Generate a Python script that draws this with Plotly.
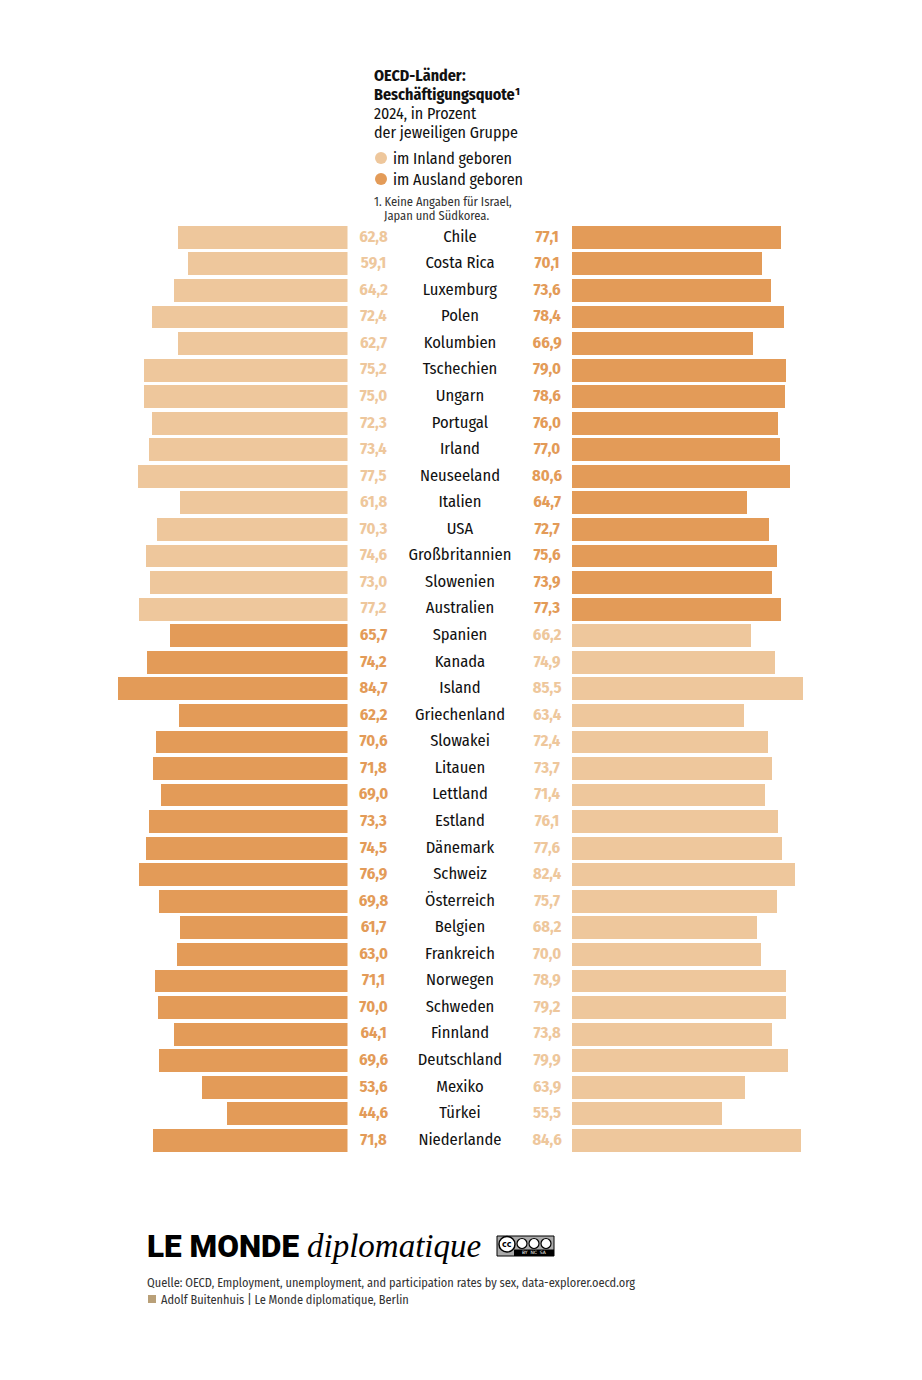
import plotly.graph_objects as go

# ---------------- data ----------------
countries = ["Chile", "Costa Rica", "Luxemburg", "Polen", "Kolumbien", "Tschechien", "Ungarn",
             "Portugal", "Irland", "Neuseeland", "Italien", "USA", "Großbritannien", "Slowenien",
             "Australien", "Spanien", "Kanada", "Island", "Griechenland", "Slowakei", "Litauen",
             "Lettland", "Estland", "Dänemark", "Schweiz", "Österreich", "Belgien", "Frankreich",
             "Norwegen", "Schweden", "Finnland", "Deutschland", "Mexiko", "Türkei", "Niederlande"]
inland = [62.8, 59.1, 64.2, 72.4, 62.7, 75.2, 75.0, 72.3, 73.4, 77.5, 61.8, 70.3, 74.6, 73.0,
          77.2, 66.2, 74.9, 85.5, 63.4, 72.4, 73.7, 71.4, 76.1, 77.6, 82.4, 75.7, 68.2, 70.0,
          78.9, 79.2, 73.8, 79.9, 63.9, 55.5, 84.6]
ausland = [77.1, 70.1, 73.6, 78.4, 66.9, 79.0, 78.6, 76.0, 77.0, 80.6, 64.7, 72.7, 75.6, 73.9,
           77.3, 65.7, 74.2, 84.7, 62.2, 70.6, 71.8, 69.0, 73.3, 74.5, 76.9, 69.8, 61.7, 63.0,
           71.1, 70.0, 64.1, 69.6, 53.6, 44.6, 71.8]

LIGHT = "#EEC79C"
DARK = "#E39B58"
FONT = "Fira Sans Condensed, Roboto Condensed, Liberation Sans Narrow, DejaVu Sans Condensed, sans-serif"

W, H = 922, 1380
OX, OY = 8, 8  # page body margin compensation
def px(x): return (x - OX) / W
def py(y): return 1 - (y - OY) / H

# left = lower value, right = higher value
left_v, right_v, left_c, right_c = [], [], [], []
for a, b in zip(inland, ausland):
    if b >= a:
        left_v.append(a); left_c.append(LIGHT); right_v.append(b); right_c.append(DARK)
    else:
        left_v.append(b); left_c.append(DARK); right_v.append(a); right_c.append(LIGHT)

fmt = lambda v: f"{v:.1f}".replace(".", ",")
ys = list(range(len(countries)))

fig = go.Figure()
fig.add_trace(go.Bar(x=left_v, y=ys, orientation="h", marker=dict(color=left_c, line_width=0),
                     width=0.86, xaxis="x", yaxis="y", hoverinfo="skip", showlegend=False))
fig.add_trace(go.Bar(x=right_v, y=ys, orientation="h", marker=dict(color=right_c, line_width=0),
                     width=0.86, xaxis="x2", yaxis="y", hoverinfo="skip", showlegend=False))
# middle text columns
fig.add_trace(go.Scatter(x=[0.116] * len(ys), y=ys, mode="text", text=[fmt(v) for v in left_v],
                         textfont=dict(family=FONT, size=16.5, color=left_c, weight="bold"),
                         xaxis="x3", yaxis="y", hoverinfo="skip", showlegend=False))
fig.add_trace(go.Scatter(x=[0.501] * len(ys), y=ys, mode="text", text=countries,
                         textfont=dict(family=FONT, size=16.5, color="#111111"),
                         xaxis="x3", yaxis="y", hoverinfo="skip", showlegend=False))
fig.add_trace(go.Scatter(x=[0.889] * len(ys), y=ys, mode="text", text=[fmt(v) for v in right_v],
                         textfont=dict(family=FONT, size=16.5, color=right_c, weight="bold"),
                         xaxis="x3", yaxis="y", hoverinfo="skip", showlegend=False))

SCALE = 2.707
XL = 347.5
XR = 572
ROW = 26.56
TOP = 237.5 - ROW / 2
BOT = TOP + 35 * ROW
hid = dict(showgrid=False, zeroline=False, showticklabels=False, showline=False, ticks="", fixedrange=True)
fig.update_layout(
    width=W, height=H, margin=dict(l=0, r=0, t=0, b=0),
    paper_bgcolor="white", plot_bgcolor="rgba(0,0,0,0)",
    bargap=0, showlegend=False,
    xaxis=dict(domain=[0, px(XL)], range=[(XL - OX) / SCALE, 0], **hid),
    xaxis2=dict(domain=[px(XR), 1], range=[0, (W + OX - XR) / SCALE], **hid),
    xaxis3=dict(domain=[px(XL), px(XR)], range=[0, 1], **hid),
    yaxis=dict(domain=[py(BOT), py(TOP)], range=[34.5, -0.5], **hid),
)

anns = []
def ann(x, y, text, size, color="#111111", family=FONT, xanchor="left", **kw):
    anns.append(dict(x=px(x), y=py(y), xref="paper", yref="paper", text=text, showarrow=False,
                     xanchor=xanchor, yanchor="middle", align="left",
                     font=dict(family=family, size=size, color=color, **kw)))

ann(372, 76, "<b>OECD-Länder:</b>", 16)
ann(372, 95, "<b>Beschäftigungsquote¹</b>", 16)
ann(372, 114, "2024, in Prozent", 16)
ann(372, 133, "der jeweiligen Gruppe", 16)
ann(391, 158, "im Inland geboren", 16)
ann(391, 179, "im Ausland geboren", 16)
ann(372, 201, "1. Keine Angaben für Israel,", 12.5, color="#333333")
ann(382, 215, "Japan und Südkorea.", 12.5, color="#333333")

ann(145, 1246, "LE MONDE", 31.5, color="#000000", family="Roboto, DejaVu Sans", weight=900)
ann(305, 1246, "<i>diplomatique</i>", 33, color="#000000", family="Liberation Serif, DejaVu Serif")
ann(145, 1282, "Quelle: OECD, Employment, unemployment, and participation rates by sex, data-explorer.oecd.org",
    12.3, color="#333333")
ann(159, 1299, "Adolf Buitenhuis | Le Monde diplomatique, Berlin", 12.3, color="#333333")

# CC badge text
ann(507, 1244, "<b>cc</b>", 8, color="#000000", family="DejaVu Sans", xanchor="center")
ann(534, 1252.5, "BY  NC  SA", 4.5, color="#ffffff", family="DejaVu Sans", xanchor="center")

shapes = []
# legend dots
for yy, c in [(158, LIGHT), (179, DARK)]:
    shapes.append(dict(type="circle", xref="paper", yref="paper", x0=px(375), x1=px(387),
                       y0=py(yy + 6), y1=py(yy - 6), fillcolor=c, line_width=0))
# source square
shapes.append(dict(type="rect", xref="paper", yref="paper", x0=px(148), x1=px(156),
                   y0=py(1303), y1=py(1295), fillcolor="#B9A078", line_width=0))
# CC badge
shapes.append(dict(type="rect", xref="paper", yref="paper", x0=px(497), x1=px(554),
                   y0=py(1256), y1=py(1236), fillcolor="#AAAAAA", line=dict(color="#000", width=1)))
shapes.append(dict(type="rect", xref="paper", yref="paper", x0=px(514), x1=px(554),
                   y0=py(1256), y1=py(1249.5), fillcolor="#000000", line_width=0))
shapes.append(dict(type="circle", xref="paper", yref="paper", x0=px(499), x1=px(515),
                   y0=py(1252), y1=py(1236.5), fillcolor="#ffffff", line=dict(color="#000", width=1.5)))
for cx in [522, 534, 546]:
    shapes.append(dict(type="circle", xref="paper", yref="paper", x0=px(cx - 5), x1=px(cx + 5),
                       y0=py(1248.5), y1=py(1238.5), fillcolor="#ffffff", line=dict(color="#000", width=1.2)))

fig.update_layout(annotations=anns, shapes=shapes)
fig.write_html("out.html")
